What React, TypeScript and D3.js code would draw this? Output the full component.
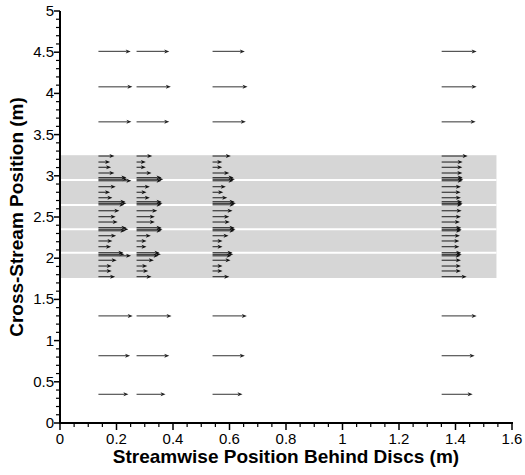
import React from "react";
import * as d3 from "d3";

// ---- data ----
const columnX = [0.136, 0.271, 0.54, 1.351];

// free-stream rows (outside wake band)
const freeY = [4.51, 4.08, 3.655, 1.3, 0.817, 0.348];
const freeU1 = [3.23, 3.4, 3.3, 3.43, 3.17, 3.0];
const freeU2 = [3.27, 3.43, 3.27, 3.5, 3.27, 2.9];
const freeU3 = [3.23, 3.5, 3.33, 3.43, 3.23, 3.0];
const freeU4 = [3.5, 3.5, 3.4, 3.5, 3.3, 3.1];

// wake rows (inside gray band)
const wakeY = [
  3.24, 3.167, 3.103, 3.034,
  2.978, 2.958, 2.94,
  2.868, 2.8, 2.734,
  2.686, 2.666, 2.648,
  2.576, 2.504, 2.439,
  2.371, 2.351, 2.333,
  2.273, 2.209, 2.14,
  2.067, 2.047, 2.029,
  1.975, 1.905, 1.845, 1.776,
];
const wakeU1 = [
  1.6, 1.17, 1.27, 1.6,
  2.8, 2.9, 3.3,
  1.73, 1.17, 1.4,
  2.7, 2.8, 2.6,
  2.1, 1.73, 1.93,
  2.8, 3.0, 2.7,
  1.77, 1.4, 1.27,
  2.5, 2.6, 3.27,
  1.83, 1.33, 1.33, 1.67,
];
const wakeU2 = [
  1.57, 0.93, 0.93, 1.5,
  2.5, 2.67, 2.5,
  1.33, 1.0, 1.33,
  2.5, 2.6, 2.5,
  2.07, 1.83, 1.83,
  2.5, 2.6, 2.5,
  1.43, 1.0, 1.0,
  2.3, 2.43, 2.2,
  1.73, 1.07, 1.17, 1.5,
];
const wakeU3 = [
  1.83, 0.97, 0.97, 1.67,
  2.1, 2.23, 2.1,
  1.33, 1.07, 1.47,
  2.2, 2.33, 2.2,
  2.0, 1.67, 1.73,
  2.2, 2.3, 2.2,
  1.6, 1.0, 1.0,
  2.0, 2.07, 1.9,
  1.8, 1.0, 1.0, 1.67,
];
const wakeU4 = [
  2.6, 2.1, 2.07, 2.07,
  2.1, 2.17, 2.1,
  1.93, 1.9, 1.93,
  2.05, 2.1, 2.05,
  2.0, 1.93, 1.83,
  1.95, 2.0, 1.95,
  1.83, 1.77, 1.77,
  1.95, 2.0, 1.9,
  1.93, 1.93, 1.93, 2.5,
];

const bandY = [1.76, 3.25];
const bandXEnd = 1.545;
const whiteLinesY = [2.067, 2.35, 2.646, 2.95];

const xTicks = [0, 0.2, 0.4, 0.6, 0.8, 1, 1.2, 1.4, 1.6];
const yTicks = [0, 0.5, 1, 1.5, 2, 2.5, 3, 3.5, 4, 4.5, 5];

const xTitle = "Streamwise Position Behind Discs (m)";
const yTitle = "Cross-Stream Position (m)";

// ---- layout ----
const W = 525;
const H = 475;
const margin = { left: 60, right: 13, top: 11, bottom: 52 };

const x = d3.scaleLinear().domain([0, 1.6]).range([margin.left, W - margin.right]);
const y = d3.scaleLinear().domain([0, 5]).range([H - margin.bottom, margin.top]);
// arrow length scale (velocity -> pixels)
const len = d3.scaleLinear().domain([0, 1]).range([0, 10]);

const font = "'Liberation Sans', Arial, Helvetica, sans-serif";

function Arrow({ x0, y0, u, shaft, head }: { x0: number; y0: number; u: number; shaft: string; head: string }) {
  const L = len(u);
  const hl = 5;
  const hw = 2;
  const x1 = x0 + L;
  return (
    <g>
      <line x1={x0} y1={y0} x2={x1 - hl + 1} y2={y0} stroke={shaft} strokeWidth={1.2} />
      <path d={`M${x1},${y0} L${x1 - hl},${y0 - hw} L${x1 - hl + 1.2},${y0} L${x1 - hl},${y0 + hw} Z`} fill={head} />
    </g>
  );
}

export default function App() {
  const freeCols = [freeU1, freeU2, freeU3, freeU4];
  const wakeCols = [wakeU1, wakeU2, wakeU3, wakeU4];
  const minorX = d3.range(0, 1.6001, 0.05).filter((v) => Math.abs(v / 0.2 - Math.round(v / 0.2)) > 1e-6);
  const minorY = d3.range(0, 5.0001, 0.1).filter((v) => Math.abs(v / 0.5 - Math.round(v / 0.5)) > 1e-6);
  const y0px = y(0);
  const x0px = x(0);

  return (
    <svg width={W} height={H} style={{ position: "absolute", left: 0, top: 0, background: "#fff" }} fontFamily={font}>
      {/* wake band */}
      <rect x={x(0)} y={y(bandY[1])} width={x(bandXEnd) - x(0)} height={y(bandY[0]) - y(bandY[1])} fill="#d6d6d6" />
      {whiteLinesY.map((v, i) => (
        <line key={i} x1={x(0)} x2={x(bandXEnd)} y1={y(v)} y2={y(v)} stroke="#fff" strokeWidth={2} />
      ))}

      {/* arrows */}
      {columnX.map((cx, ci) => (
        <g key={ci}>
          {freeY.map((fy, ri) => (
            <Arrow key={"f" + ri} x0={x(cx)} y0={y(fy)} u={freeCols[ci][ri]} shaft="#555" head="#222" />
          ))}
          {wakeY.map((wy, ri) => (
            <Arrow key={"w" + ri} x0={x(cx)} y0={y(wy)} u={wakeCols[ci][ri]} shaft="#3a3a3a" head="#111" />
          ))}
        </g>
      ))}

      {/* x axis */}
      <line x1={x0px - 1} x2={x(1.6) + 1} y1={y0px} y2={y0px} stroke="#000" strokeWidth={2} />
      {xTicks.map((t) => (
        <g key={"xt" + t}>
          <line x1={x(t)} x2={x(t)} y1={y0px} y2={y0px + 7} stroke="#000" strokeWidth={1.5} />
          <text x={x(t)} y={y0px + 21} textAnchor="middle" fontSize={15} fill="#000">
            {String(t)}
          </text>
        </g>
      ))}
      {minorX.map((t, i) => (
        <line key={"xm" + i} x1={x(t)} x2={x(t)} y1={y0px} y2={y0px + 4} stroke="#000" strokeWidth={1.2} />
      ))}

      {/* y axis */}
      <line x1={x0px} x2={x0px} y1={y(5)} y2={y0px + 1} stroke="#000" strokeWidth={2} />
      {yTicks.map((t) => (
        <g key={"yt" + t}>
          <line x1={x0px - 6} x2={x0px} y1={y(t)} y2={y(t)} stroke="#000" strokeWidth={1.5} />
          <text x={x0px - 6} y={y(t) + 5} textAnchor="end" fontSize={15} fill="#000">
            {String(t)}
          </text>
        </g>
      ))}
      {minorY.map((t, i) => (
        <line key={"ym" + i} x1={x0px - 4} x2={x0px} y1={y(t)} y2={y(t)} stroke="#000" strokeWidth={1.2} />
      ))}

      {/* titles */}
      <text x={(x(0) + x(1.6)) / 2} y={463} textAnchor="middle" fontSize={19} fontWeight="bold" fill="#000">
        {xTitle}
      </text>
      <text
        transform={`translate(23, ${(y(0) + y(5)) / 2}) rotate(-90)`}
        textAnchor="middle"
        fontSize={19}
        fontWeight="bold"
        fill="#000"
      >
        {yTitle}
      </text>
    </svg>
  );
}
